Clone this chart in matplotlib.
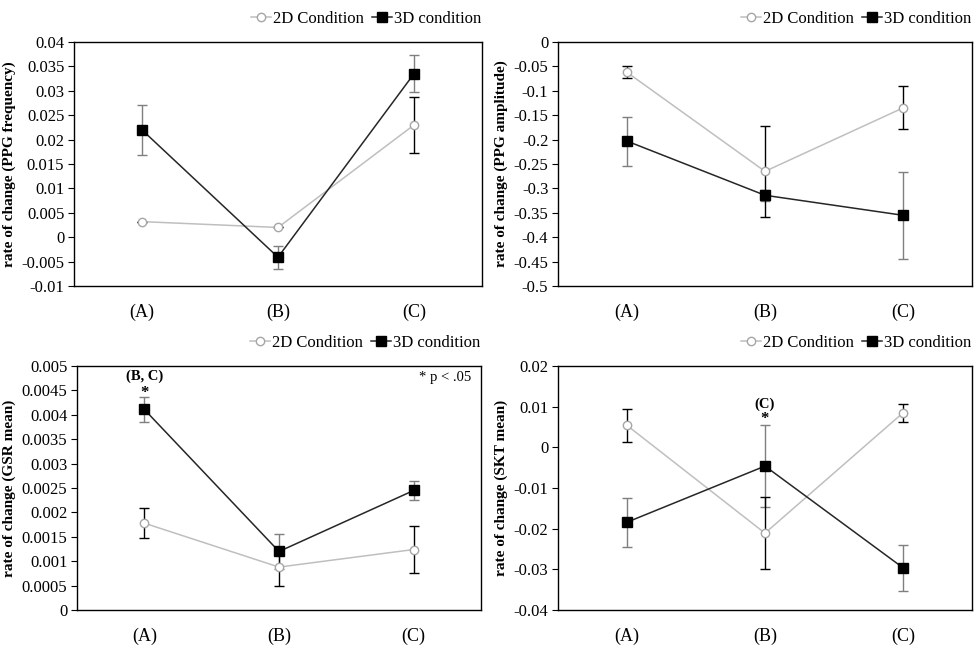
import matplotlib
matplotlib.use("Agg")
import matplotlib.pyplot as plt
import numpy as np

plt.rcParams['font.family'] = ['Liberation Serif', 'DejaVu Serif']

categories = ["(A)", "(B)", "(C)"]

# Panel 1: PPG frequency
ppg_freq_2d = [0.0032, 0.0020, 0.0230]
ppg_freq_2d_err = [0.0, 0.0, 0.0058]
ppg_freq_3d = [0.0220, -0.0041, 0.0335]
ppg_freq_3d_err = [0.0052, 0.0024, 0.0038]

# Panel 2: PPG amplitude
ppg_amp_2d = [-0.062, -0.265, -0.135]
ppg_amp_2d_err = [0.012, 0.093, 0.044]
ppg_amp_3d = [-0.203, -0.314, -0.355]
ppg_amp_3d_err = [0.050, 0.011, 0.089]

# Panel 3: GSR mean
gsr_2d = [0.00178, 0.00088, 0.00124]
gsr_2d_err = [0.00031, 0.00038, 0.00049]
gsr_3d = [0.00411, 0.00120, 0.00245]
gsr_3d_err = [0.00026, 0.00035, 0.00019]

# Panel 4: SKT mean
skt_2d = [0.0054, -0.0211, 0.0085]
skt_2d_err = [0.0040, 0.0089, 0.0022]
skt_3d = [-0.0184, -0.0046, -0.0296]
skt_3d_err = [0.0060, 0.0100, 0.0056]

panels = [
    dict(pos=[0.0755, 0.5586, 0.4163, 0.3765], d2=ppg_freq_2d, e2=ppg_freq_2d_err,
         d3=ppg_freq_3d, e3=ppg_freq_3d_err, ylim=(-0.01, 0.04), step=0.005,
         ylabel="rate of change (PPG frequency)"),
    dict(pos=[0.5694, 0.5586, 0.4224, 0.3765], d2=ppg_amp_2d, e2=ppg_amp_2d_err,
         d3=ppg_amp_3d, e3=ppg_amp_3d_err, ylim=(-0.5, 0.0), step=0.05,
         ylabel="rate of change (PPG amplitude)"),
    dict(pos=[0.0786, 0.0586, 0.4122, 0.3765], d2=gsr_2d, e2=gsr_2d_err,
         d3=gsr_3d, e3=gsr_3d_err, ylim=(0.0, 0.005), step=0.0005,
         ylabel="rate of change (GSR mean)"),
    dict(pos=[0.5694, 0.0586, 0.4224, 0.3765], d2=skt_2d, e2=skt_2d_err,
         d3=skt_3d, e3=skt_3d_err, ylim=(-0.04, 0.02), step=0.01,
         ylabel="rate of change (SKT mean)"),
]

fig = plt.figure(figsize=(9.8, 6.48), dpi=100)
x = np.arange(len(categories))

def fmt_tick(v, step):
    if abs(v) < step / 10:
        return "0"
    return "{:.4f}".format(v).rstrip("0").rstrip(".")

axes = []
for p in panels:
    ax = fig.add_axes(p["pos"])
    axes.append(ax)
    ax.errorbar(x, p["d2"], yerr=p["e2"], fmt="none", ecolor="#000000",
                elinewidth=1.0, capsize=3.5, capthick=1.0, zorder=2)
    ax.errorbar(x, p["d3"], yerr=p["e3"], fmt="none", ecolor="#7f7f7f",
                elinewidth=1.0, capsize=3.5, capthick=1.0, zorder=1)
    ax.plot(x, p["d2"], color="#bfbfbf", lw=1.1, marker="o", ms=6,
            mfc="white", mec="#a6a6a6", mew=1.0, label="2D Condition", zorder=3)
    ax.plot(x, p["d3"], color="#262626", lw=1.1, marker="s", ms=6.5,
            mfc="black", mec="black", label="3D condition", zorder=4)
    ax.set_xlim(-0.5, 2.5)
    lo, hi = p["ylim"]
    ax.set_ylim(lo, hi)
    ticks = np.arange(lo, hi + p["step"] / 2, p["step"])
    ax.set_yticks(ticks)
    ax.set_yticklabels([fmt_tick(t, p["step"]) for t in ticks], fontsize=12)
    ax.set_xticks(x)
    ax.set_xticklabels(categories, fontsize=13)
    ax.tick_params(axis="x", length=0, pad=13)
    ax.tick_params(axis="y", length=4, width=0.8, direction="out", pad=3)
    for s in ax.spines.values():
        s.set_linewidth(1.0)
        s.set_color("black")
    ax.set_ylabel(p["ylabel"], fontsize=11, fontweight="bold", labelpad=4)
    ax.legend(loc="lower right", bbox_to_anchor=(1.022, 1.02), ncol=2, frameon=False,
              fontsize=12, handlelength=1.2, handletextpad=0.1, columnspacing=0.5,
              borderaxespad=0.2)

# annotations
ax3 = axes[2]
ax3.text(0, 0.0048, "(B, C)", ha="center", va="center", fontsize=10.5, fontweight="bold")
ax3.text(0, 0.00445, "*", ha="center", va="center", fontsize=12, fontweight="bold")
ax3.text(0.975, 0.955, "* p < .05", transform=ax3.transAxes, ha="right", va="center", fontsize=10.5)

ax4 = axes[3]
ax4.text(1, 0.0107, "(C)", ha="center", va="center", fontsize=10.5, fontweight="bold")
ax4.text(1, 0.0069, "*", ha="center", va="center", fontsize=12, fontweight="bold")

fig.savefig("out.png", dpi=100)
